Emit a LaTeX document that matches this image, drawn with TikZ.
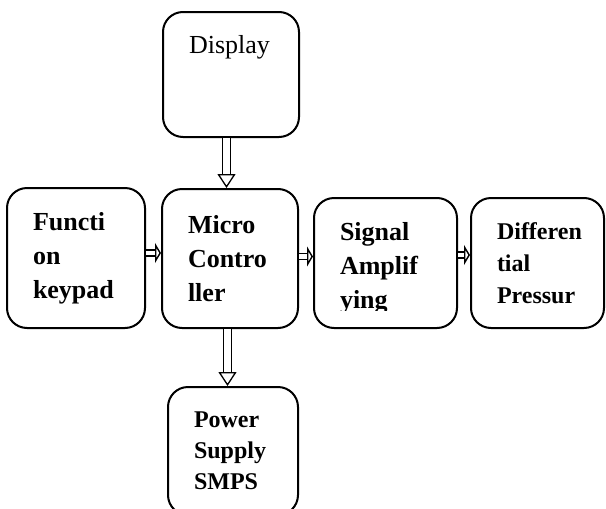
\documentclass[tikz,border=0pt]{standalone}
\usepackage{fontspec}
\setmainfont{Liberation Serif}
\usetikzlibrary{arrows.meta}
\tikzset{block/.style={draw, fill=white, line width=2pt, rounded corners=20pt, rectangle, align=left, inner xsep=26pt, inner ysep=0pt},
         btext/.style={font=\fontsize{26}{34}\selectfont\bfseries},
         stext/.style={font=\fontsize{24}{32}\selectfont\bfseries},
         varrow/.style={double, double distance=6.5pt, line width=1.3pt, -{Triangle[open, length=14pt, width=18pt]}},
         harrow/.style={double, double distance=4.5pt, line width=1.4pt, -{Triangle[open, length=6pt, width=20pt]}}}
\begin{document}
\begin{tikzpicture}[x=1pt,y=-1pt]
    \useasboundingbox(0,0)rectangle(606,509);
    \node[block, text width=84pt, minimum height=125pt, text height=18pt, text depth=61pt, font=\fontsize{26}{34}\selectfont](disp)at(231,74.5){Display};
    \node[block, btext, text width=84pt, minimum height=139pt](mc)at(230,258.5){Micro\\Contro\\ller};
    \node[block, btext, text width=86pt, minimum height=140pt](fk)at(76,258){Functi\\on\\keypad};
    \node[block, text width=91pt, minimum height=130pt](sa)at(385.5,263){};
    \begin{scope}
        \clip(sa.north west)rectangle(sa.east |- 0,310);
        \node[btext, align=left, inner xsep=26pt, inner ysep=0pt, text width=91pt](satxt)at(385.5,268){Signal\\Amplif\\ying};
    \end{scope}
    \node[block, stext, text width=81pt, minimum height=130pt](dp)at(537.5,263){Differen\\tial\\Pressur};
    \node[block, stext, font=\fontsize{24}{31}\selectfont\bfseries, text width=78pt, minimum height=128pt](ps)at(233,451){Power\\Supply\\SMPS};
    \draw[varrow]([xshift=-4.5pt]disp.south)--([xshift=-4.5pt]disp.south |- mc.north);
    \draw[varrow]([xshift=-2.5pt]mc.south)--([xshift=-2.5pt]mc.south |- ps.north);
    \draw[harrow]([yshift=5pt]fk.east)--([yshift=5pt]fk.east -| mc.west);
    \draw[harrow]([yshift=2pt]mc.east)--([yshift=2pt]mc.east -| sa.west);
    \draw[harrow]([yshift=8pt]sa.east)--([yshift=8pt]sa.east -| dp.west);
\end{tikzpicture}
\end{document}
